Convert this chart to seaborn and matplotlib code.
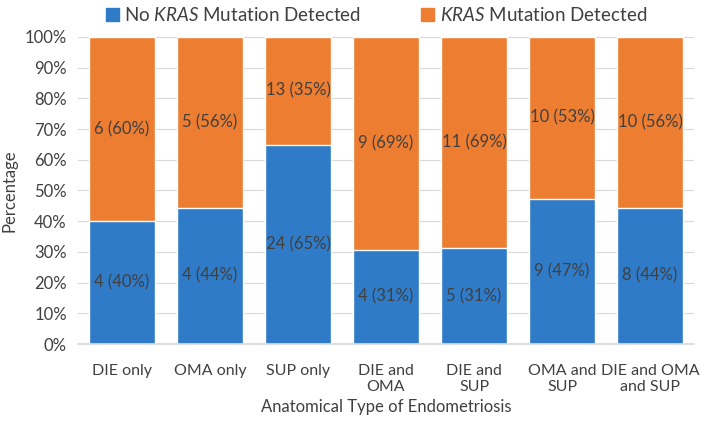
import matplotlib
matplotlib.use("Agg")
import numpy as np
import pandas as pd
import seaborn as sns
import matplotlib.pyplot as plt
from matplotlib.ticker import PercentFormatter
from matplotlib.patches import Patch

categories = ["DIE only", "OMA only", "SUP only", "DIE and\nOMA", "DIE and\nSUP",
              "OMA and\nSUP", "DIE and OMA\nand SUP"]
no_kras = [4, 4, 24, 4, 5, 9, 8]
kras = [6, 5, 13, 9, 11, 10, 10]

sns.set_theme(style="white")
plt.rcParams["font.family"] = ["Lato", "DejaVu Sans"]
plt.rcParams["mathtext.fontset"] = "custom"
plt.rcParams["mathtext.rm"] = "Lato"
plt.rcParams["mathtext.it"] = "Lato:italic"

blue = "#2F7BC8"
orange = "#ED7D31"
txt = "#404040"

df = pd.DataFrame({"cat": categories, "no": no_kras, "yes": kras})
df["total"] = df["no"] + df["yes"]
df["p_no"] = df["no"] / df["total"] * 100
df["p_yes"] = df["yes"] / df["total"] * 100
df["all"] = 100.0

fig = plt.figure(figsize=(7.09, 4.29), dpi=100)
ax = fig.add_axes([0.110, 0.198, 0.869, 0.716])

sns.barplot(data=df, x="cat", y="all", color=orange, width=0.75, saturation=1, ax=ax)
sns.barplot(data=df, x="cat", y="p_no", color=blue, width=0.75, saturation=1, ax=ax)

for i, r in df.iterrows():
    ax.text(i, r["p_no"] / 2, f"{r['no']} ({r['p_no']:.0f}%)", ha="center", va="center",
            fontsize=12, color=txt)
    ax.text(i, r["p_no"] + r["p_yes"] / 2, f"{r['yes']} ({r['p_yes']:.0f}%)", ha="center",
            va="center", fontsize=12, color=txt)

ax.set_ylim(0, 100)
ax.set_yticks(np.arange(0, 101, 10))
ax.yaxis.set_major_formatter(PercentFormatter(decimals=0))
ax.grid(axis="y", color="#D9D9D9", linewidth=0.8)
ax.set_axisbelow(True)
for s in ["top", "right", "left"]:
    ax.spines[s].set_visible(False)
ax.spines["bottom"].set_color("#D9D9D9")
ax.tick_params(axis="y", length=0, labelsize=12, colors=txt, pad=8)
ax.tick_params(axis="x", length=0, labelsize=11.5, colors=txt, pad=14)
ax.set_xlabel("Anatomical Type of Endometriosis", fontsize=12, color=txt, labelpad=4)
ax.set_ylabel("Percentage", fontsize=12, color=txt)
ax.yaxis.set_label_coords(-0.098, 0.5)

handles = [Patch(color=blue), Patch(color=orange)]
labels = ["No $\\mathit{KRAS}$ Mutation Detected", "$\\mathit{KRAS}$ Mutation Detected"]
fig.legend(handles, labels, loc="upper left", bbox_to_anchor=(0.125, 1.025), ncol=2,
           frameon=False, fontsize=13.5, handlelength=0.7, handleheight=0.7,
           handletextpad=0.3, columnspacing=3.2, labelcolor=txt)

fig.savefig("out.png", dpi=100)
